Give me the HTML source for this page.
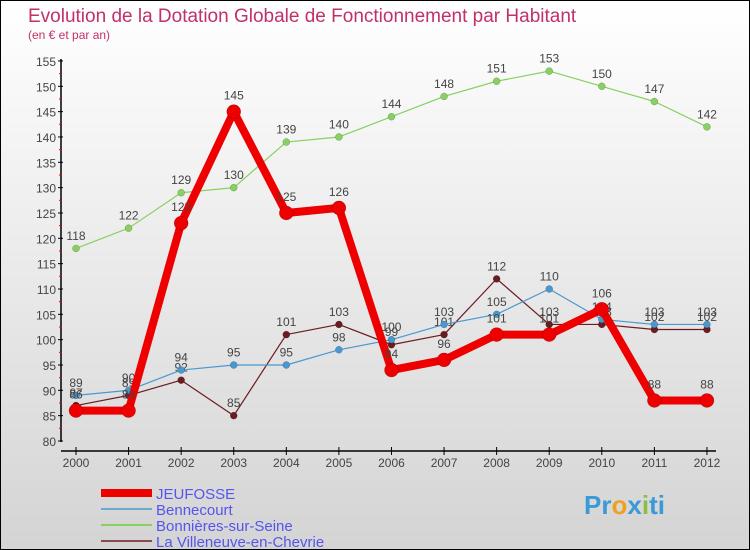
<!DOCTYPE html>
<html><head><meta charset="utf-8"><style>
body{margin:0}
#c{width:748px;height:548px;border:1px solid #000;background:linear-gradient(#fff,#d4d4d4);position:relative;overflow:hidden;font-family:"Liberation Sans",sans-serif}
</style></head><body>
<div id="c">
<svg id="s" width="748" height="548" xmlns="http://www.w3.org/2000/svg"></svg>
</div>
<script>
const years=[2000,2001,2002,2003,2004,2005,2006,2007,2008,2009,2010,2011,2012];
const jeufosse=[86,86,123,145,125,126,94,96,101,101,106,88,88];
const bennecourt=[89,90,94,95,95,98,100,103,105,110,104,103,103];
const bonnieres=[118,122,129,130,139,140,144,148,151,153,150,147,142];
const villeneuve=[87,89,92,85,101,103,99,101,112,103,103,102,102];
const yTicks=[80,85,90,95,100,105,110,115,120,125,130,135,140,145,150,155];
const NS='http://www.w3.org/2000/svg';
const s=document.getElementById('s');
const X=i=>75+i*52.58, Y=v=>440-(v-80)*5.067;
function el(t,a,p){const e=document.createElementNS(NS,t);for(const k in a)e.setAttribute(k,a[k]);(p||s).appendChild(e);return e;}
function tx(x,y,str,a){const e=el('text',Object.assign({x:x,y:y},a));e.textContent=str;return e;}
let t=tx(27,21,'Evolution de la Dotation Globale de Fonctionnement par Habitant',{fill:'#c0306a','font-size':19});

t=tx(27,38,'(en € et par an)',{fill:'#c0306a','font-size':12});

// axes
let a=el('line',{x1:60,y1:58,x2:60,y2:441,stroke:'#000','stroke-width':1.5});

a=el('line',{x1:60,y1:450,x2:715,y2:450,stroke:'#000','stroke-width':1.5});

yTicks.forEach(v=>{el('line',{x1:57,x2:62,y1:Y(v),y2:Y(v),stroke:'#000'});
 if(v<155)el('line',{x1:58,x2:61,y1:Y(v+2.5),y2:Y(v+2.5),stroke:'#e00'});
 const l=tx(55,Y(v)+5,v,{fill:'#444','font-size':12,'text-anchor':'end'});
 });
years.forEach((y,i)=>{el('line',{x1:X(i),x2:X(i),y1:446,y2:454,stroke:'#000'});
 const l=tx(X(i),466,y,{fill:'#444','font-size':12,'text-anchor':'middle'});
 });
function series(data,color,w,r,name){
 const g=el('g',{});
 el('polyline',{points:data.map((v,i)=>X(i)+','+Y(v)).join(' '),fill:'none',stroke:color,'stroke-width':w,'stroke-linejoin':'round'},g);
 data.forEach((v,i)=>{const c=el('circle',{cx:X(i),cy:Y(v),r:r,fill:color,stroke:'rgba(0,0,0,0.3)','stroke-width':0.5},g);
  
  tx(X(i),Y(v)-r-5,v,{fill:'#444','font-size':12,'text-anchor':'middle'},g);});
}
series(bonnieres,'#88d060',1.2,3.5,'bonnieres-series');
series(villeneuve,'#6a1c20',1.2,3.5,'villeneuve-series');
series(bennecourt,'#4a98d0',1.2,3.5,'bennecourt-series');
series(jeufosse,'#ee0000',8,7,'jeufosse-series');
const leg=[['JEUFOSSE','#ee0000',8],['Bennecourt','#6aaad0',2],['Bonnières-sur-Seine','#88d060',2],['La Villeneuve-en-Chevrie','#8a4a4a',2]];
leg.forEach((d,i)=>{const g=el('g',{});
 const y=492+i*16;el('line',{x1:100,x2:151,y1:y,y2:y,stroke:d[1],'stroke-width':d[2]},g);
 tx(155,y+6,d[0],{fill:'#5555ee','font-size':15},g);});
const p=tx(583,513,'',{'font-size':26,'font-weight':'bold'});
[['Pr','#3a9ad8'],['o','#f0a020'],['x','#3a9ad8'],['i','#88c040'],['ti','#3a9ad8']].forEach(d=>{const ts=el('tspan',{fill:d[1]},p);ts.textContent=d[0];});
</script>
</body></html>
